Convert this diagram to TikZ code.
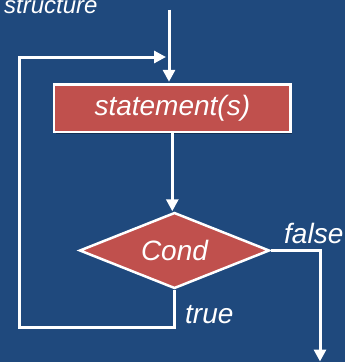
\documentclass[tikz,border=0pt]{standalone}
\usepackage{fontspec}
\setmainfont{Liberation Sans}
\usetikzlibrary{arrows.meta,shapes.geometric,shadows}
\definecolor{bgblue}{RGB}{31,73,125}
\definecolor{boxred}{RGB}{192,80,77}
\begin{document}
\begin{tikzpicture}[x=1pt,y=-1pt,
  wire/.style={draw=white, line width=3pt},
  flow/.style={wire, -{Triangle[length=12pt,width=12pt]}},
  lbl/.style={text=white, inner sep=0pt, font=\fontsize{28}{32}\selectfont\itshape},
  soft/.style={drop shadow={shadow xshift=1.5pt, shadow yshift=-1.5pt, opacity=.35, fill=black}},
  procbox/.style={lbl, draw=white, line width=2.5pt, fill=boxred, soft,
    minimum width=236.5pt, minimum height=47.5pt},
  decision/.style={lbl, draw=white, line width=2.5pt, fill=boxred, diamond,
    aspect=2.4, minimum width=190pt, minimum height=76pt}]
  % canvas
  \fill[bgblue] (0,0) rectangle (345,362);
  \useasboundingbox (0,0) rectangle (345,362);

  % blocks
  \node[procbox] (stmt) at (172.3,108.3) {statement(s)};
  \node[decision] (cond) at (174.5,250.5) {Cond};

  % free ends of the connectors
  \coordinate (entry) at (169,9.5);
  \coordinate (loopin) at (166,57);
  \coordinate (exit) at (320,361.5);

  % connectors
  \draw[flow, shorten >=1.5pt] (entry) -- (entry |- stmt.north);
  \draw[flow] (stmt.south) -- (stmt.south |- cond.north);
  \draw[flow] (cond.east) -| (exit);
  \draw[flow] (cond.south) -- (cond.south |- 0,327.5) -- (19,327.5) -- (19,57) -- (loopin);

  % labels
  \node[lbl, anchor=base west, font=\fontsize{24}{28}\selectfont\itshape] (title) at (4,13.5) {structure};
  \node[lbl, anchor=base west] (flbl) at (284,243) {false};
  \node[lbl, anchor=base west] (tlbl) at (185,323) {true};
\end{tikzpicture}
\end{document}
